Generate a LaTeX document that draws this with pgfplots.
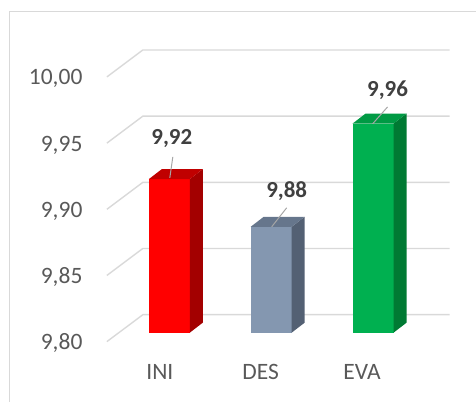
\documentclass[border=0pt]{standalone}
\usepackage{pgfplots}
\pgfplotsset{compat=1.18}
\usepackage{fontspec}
\setmainfont{Carlito}
\definecolor{gridc}{HTML}{D9D9D9}
\definecolor{tickc}{HTML}{595959}
\definecolor{labc}{HTML}{404040}
\definecolor{leadc}{HTML}{A6A6A6}
\definecolor{redF}{HTML}{FF0000}
\definecolor{redS}{HTML}{A30000}
\definecolor{redT}{HTML}{C00000}
\definecolor{grayF}{HTML}{8497B0}
\definecolor{grayS}{HTML}{536073}
\definecolor{grayT}{HTML}{66768C}
\definecolor{greenF}{HTML}{00B050}
\definecolor{greenS}{HTML}{007A33}
\definecolor{greenT}{HTML}{009A44}
\begin{document}
\begin{tikzpicture}
\begin{axis}[
  scale only axis, width=476pt, height=402pt,
  xmin=0, xmax=476, ymin=9.747925, ymax=10.051321,
  hide axis, clip=false, no markers,
]
\path (rel axis cs:0,0) rectangle (rel axis cs:1,1);
% frame
\addplot[gridc, line width=1pt] coordinates {(10,9.747925) (10,10.042264) (476,10.042264)};
% gridlines: back wall + front diagonal
\foreach \L in {9.80,9.85,9.90,9.95,10.00}{
  \pgfmathsetmacro\b{\L+0.013585}
  \pgfmathsetmacro\f{\L-0.006792}
  \edef\temp{\noexpand\addplot[gridc, line width=1.4pt] coordinates {(107,\f) (143,\b) (450,\b)};}
  \temp
}
% red bar 9.916
\addplot[fill=redF, draw=none] coordinates {(149,9.80) (190,9.80) (190,9.916) (149,9.916)};
\addplot[fill=redS, draw=none] coordinates {(190,9.80) (203,9.807547) (203,9.923547) (190,9.916)};
\addplot[fill=redT, draw=none] coordinates {(149,9.916) (190,9.916) (203,9.923547) (162,9.923547)};
% gray bar 9.880
\addplot[fill=grayF, draw=none] coordinates {(251,9.80) (292,9.80) (292,9.880) (251,9.880)};
\addplot[fill=grayS, draw=none] coordinates {(292,9.80) (305,9.807547) (305,9.887547) (292,9.880)};
\addplot[fill=grayT, draw=none] coordinates {(251,9.880) (292,9.880) (305,9.887547) (264,9.887547)};
% green bar 9.958
\addplot[fill=greenF, draw=none] coordinates {(353,9.80) (394,9.80) (394,9.958) (353,9.958)};
\addplot[fill=greenS, draw=none] coordinates {(394,9.80) (407,9.807547) (407,9.965547) (394,9.958)};
\addplot[fill=greenT, draw=none] coordinates {(353,9.958) (394,9.958) (407,9.965547) (366,9.965547)};
% leader lines
\addplot[leadc, line width=1pt] coordinates {(173,9.932830) (170,9.916981)};
\addplot[leadc, line width=1pt] coordinates {(287,9.894340) (272,9.880)};
\addplot[leadc, line width=1pt] coordinates {(388,9.970566) (373,9.957736)};
% data labels
\node[anchor=base, text=labc, font=\fontsize{23}{28}\selectfont\bfseries] at (axis cs:172,9.941887) {9,92};
\node[anchor=base, text=labc, font=\fontsize{23}{28}\selectfont\bfseries] at (axis cs:287,9.901887) {9,88};
\node[anchor=base, text=labc, font=\fontsize{23}{28}\selectfont\bfseries] at (axis cs:388,9.978113) {9,96};
% y tick labels
\node[anchor=base east, text=tickc, font=\fontsize{23.5}{28}\selectfont] at (axis cs:86,9.98717) {10,00};
\node[anchor=base east, text=tickc, font=\fontsize{23.5}{28}\selectfont] at (axis cs:86,9.93717) {9,95};
\node[anchor=base east, text=tickc, font=\fontsize{23.5}{28}\selectfont] at (axis cs:86,9.88717) {9,90};
\node[anchor=base east, text=tickc, font=\fontsize{23.5}{28}\selectfont] at (axis cs:86,9.83717) {9,85};
\node[anchor=base east, text=tickc, font=\fontsize{23.5}{28}\selectfont] at (axis cs:86,9.78717) {9,80};
% category labels
\node[anchor=base, text=tickc, font=\fontsize{23.5}{28}\selectfont] at (axis cs:160,9.764528) {INI};
\node[anchor=base, text=tickc, font=\fontsize{23.5}{28}\selectfont] at (axis cs:261,9.764528) {DES};
\node[anchor=base, text=tickc, font=\fontsize{23.5}{28}\selectfont] at (axis cs:362.5,9.764528) {EVA};
\end{axis}
\end{tikzpicture}
\end{document}
